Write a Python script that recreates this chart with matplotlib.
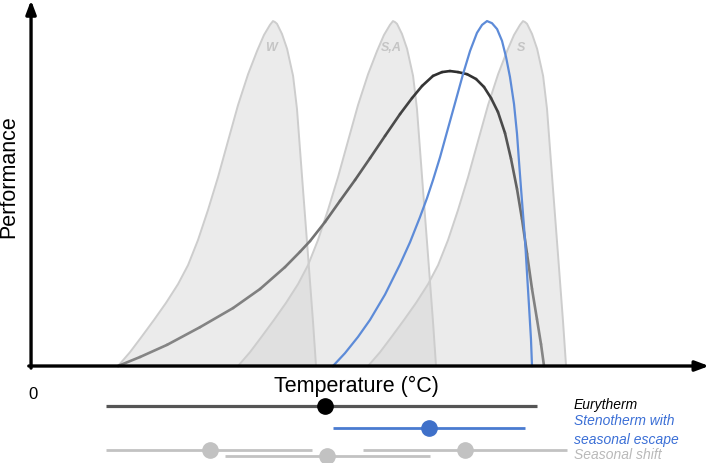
import numpy as np
import matplotlib.pyplot as plt
from matplotlib.collections import LineCollection
from matplotlib.colors import to_rgb

plt.rcParams['font.family'] = ['Liberation Sans', 'DejaVu Sans']

# Seasonal performance envelope (one shape, shifted per season)
env_T = [5.80, 6.60, 7.40, 8.20, 9.00, 9.80, 10.47, 11.13, 11.80, 12.47, 13.13, 13.80,
         14.47, 15.07, 15.53, 15.93, 16.13, 16.27, 16.40, 16.73, 17.07, 17.47, 17.73,
         17.93, 18.13, 18.47, 18.80, 19.00]
env_P = [0.0, 0.040, 0.086, 0.133, 0.182, 0.236, 0.291, 0.363, 0.450, 0.545, 0.648, 0.752,
         0.841, 0.908, 0.954, 0.983, 0.994, 0.991, 0.986, 0.957, 0.914, 0.836, 0.741,
         0.625, 0.510, 0.317, 0.127, 0.0]
seasons = ["W", "S,A", "S"]
season_shift = [0.0, 8.0, 16.67]

# Eurytherm performance curve
eury_T = [5.80, 7.27, 9.07, 11.27, 13.47, 15.27, 16.93, 17.93, 18.60, 19.60, 20.60,
          21.60, 22.60, 23.60, 24.60, 25.40, 26.07, 26.80, 27.40, 27.93, 28.47, 29.07,
          29.67, 30.20, 30.67, 31.13, 31.60, 32.00, 32.40, 32.73, 33.07, 33.40, 33.73,
          34.00, 34.20]
eury_P = [0.0, 0.026, 0.061, 0.112, 0.167, 0.222, 0.285, 0.329, 0.360, 0.415, 0.476,
          0.536, 0.599, 0.663, 0.726, 0.772, 0.807, 0.836, 0.847, 0.850, 0.847, 0.841,
          0.827, 0.804, 0.772, 0.732, 0.671, 0.597, 0.510, 0.424, 0.323, 0.222, 0.135,
          0.063, 0.0]

# Stenotherm with seasonal escape
steno_T = [20.13, 20.93, 21.80, 22.60, 23.60, 24.60, 25.27, 25.93, 26.40, 26.80, 27.27,
           27.73, 28.27, 28.80, 29.27, 29.73, 30.07, 30.40, 30.73, 31.07, 31.40, 31.67,
           31.93, 32.20, 32.40, 32.53, 32.67, 32.80, 32.93, 33.07, 33.20, 33.33, 33.40]
steno_P = [0.0, 0.037, 0.084, 0.133, 0.206, 0.293, 0.357, 0.429, 0.484, 0.536, 0.602,
           0.674, 0.758, 0.841, 0.908, 0.960, 0.983, 0.994, 0.988, 0.971, 0.937, 0.890,
           0.833, 0.755, 0.669, 0.591, 0.510, 0.438, 0.366, 0.265, 0.173, 0.078, 0.0]

# Tolerance ranges (min, optimum, max) below the axis
eury_range = [5.0, 19.6, 33.7]
steno_range = [20.1, 26.5, 32.9]
shift_ranges = [[5.0, 11.9, 18.7], [12.9, 19.7, 26.6], [22.1, 28.9, 35.7]]

fig = plt.figure(figsize=(7.09, 4.64), dpi=100)
ax = fig.add_axes([0, 0, 1, 1])
ax.set_xlim(-2.07, 45.2)
ax.set_ylim(-0.2795, 1.0576)
ax.axis("off")

# seasonal envelopes
for name, dx in zip(seasons, season_shift):
    xs = np.array(env_T) + dx
    ax.fill(xs, env_P, color="#d3d3d3", alpha=0.45, lw=0, zorder=1)
    ax.plot(xs, env_P, color="#cdcdcd", lw=1.4, zorder=2, solid_joinstyle="round")
    ax.text(16.0 + dx, 0.92, name, color="#c4c4c4", fontsize=9, fontweight="bold",
            fontstyle="italic", ha="center", va="center", zorder=2)

# eurytherm, shaded darker towards the top
pts = np.column_stack([eury_T, eury_P])
segs = np.stack([pts[:-1], pts[1:]], axis=1)
mid = (pts[:-1, 1] + pts[1:, 1]) / 2 / max(eury_P)
c0 = np.array(to_rgb("#858585"), dtype=float)
c1 = np.array(to_rgb("#2e2e2e"), dtype=float)
cols = [c0 + (c1 - c0) * m ** 2 for m in mid]
ax.add_collection(LineCollection(segs, colors=cols, linewidths=1.9, zorder=4,
                                 capstyle="round", joinstyle="round"))

ax.plot(steno_T, steno_P, color="#5d8bd8", lw=1.6, zorder=4, solid_joinstyle="round")

# axes with arrows
ax.annotate("", xy=(45.2, 0.0), xytext=(-0.15, 0.0),
            arrowprops=dict(arrowstyle="-|>,head_width=0.3,head_length=0.8",
                            color="black", lw=2.4, shrinkA=0, shrinkB=0), zorder=5)
ax.annotate("", xy=(0.0, 1.054), xytext=(0.0, -0.006),
            arrowprops=dict(arrowstyle="-|>,head_width=0.3,head_length=0.8",
                            color="black", lw=2.4, shrinkA=0, shrinkB=0), zorder=5)

ax.text(-1.47, 0.55, "Performance", rotation=90, fontsize=15.5, ha="center", va="center")
ax.text(21.7, -0.055, "Temperature (°C)", fontsize=15.5, ha="center", va="center")
ax.text(0.13, -0.08, "0", fontsize=12, ha="center", va="center")

# ranges
ax.plot([eury_range[0], eury_range[2]], [-0.1153] * 2, color="#555555", lw=2.3,
        solid_capstyle="butt")
ax.plot(eury_range[1], -0.1153, "o", color="black", ms=11)
ax.plot([steno_range[0], steno_range[2]], [-0.1787] * 2, color="#4a7bd0", lw=2.0,
        solid_capstyle="butt")
ax.plot(steno_range[1], -0.1787, "o", color="#3f70c9", ms=11)
for r, yy in zip(shift_ranges, [-0.2406, -0.2594, -0.2406]):
    ax.plot([r[0], r[2]], [yy] * 2, color="#c2c2c2", lw=2.0, solid_capstyle="butt")
    ax.plot(r[1], yy, "o", color="#c2c2c2", ms=11)

lx = 36.2
ax.text(lx, -0.110, "Eurytherm", fontsize=10, fontstyle="italic", color="black",
        va="center")
ax.text(lx, -0.157, "Stenotherm with", fontsize=10, fontstyle="italic",
        color="#3b6fd6", va="center")
ax.text(lx, -0.211, "seasonal escape", fontsize=10, fontstyle="italic",
        color="#3b6fd6", va="center")
ax.text(lx, -0.254, "Seasonal shift", fontsize=10, fontstyle="italic",
        color="#b9b9b9", va="center")

fig.savefig("out.png", dpi=100)
